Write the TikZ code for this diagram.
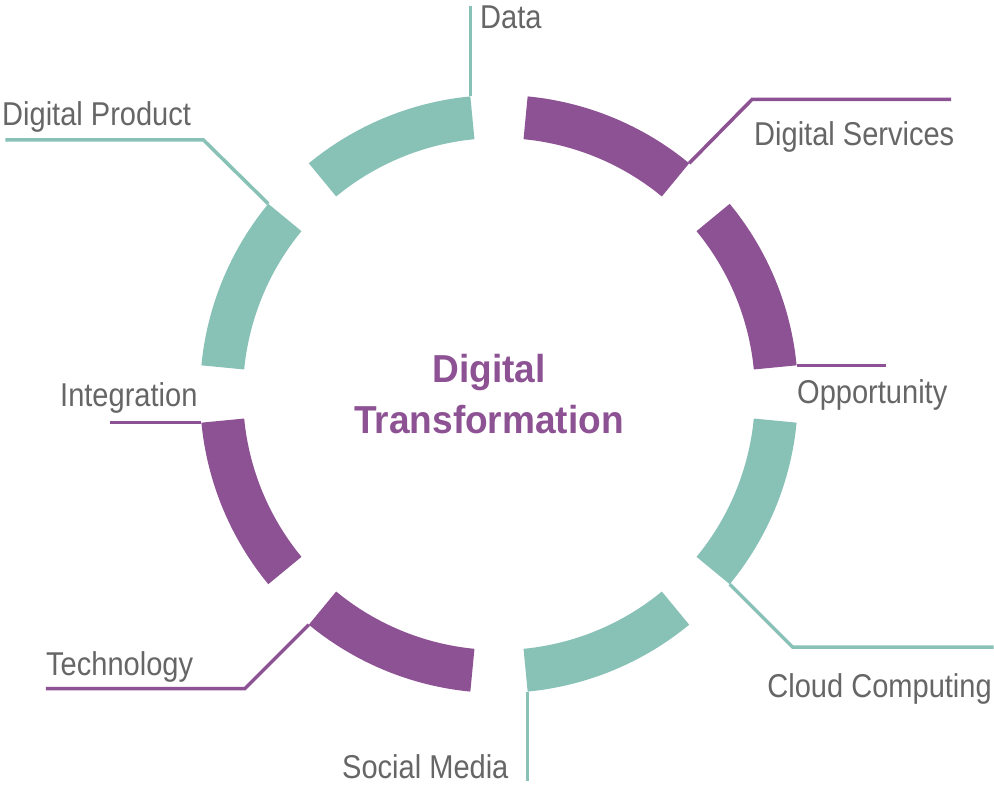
\documentclass[tikz,border=0pt]{standalone}
\usepackage{fontspec}
\setmainfont{Liberation Sans}[FakeStretch=0.88]
\newfontfamily\titlefont{Liberation Sans}[FakeStretch=0.95]
\usepackage{xcolor}
\definecolor{Sea Foam}{HTML}{88c2b7}
\definecolor{Plum}{HTML}{8d5293}
\definecolor{Slate}{HTML}{666666}
\colorlet{cTeal}{Sea Foam}
\colorlet{cPurple}{Plum}
\colorlet{cText}{Slate}
\usepackage{tikz}
\usetikzlibrary{calc, positioning}
\tikzset{
	lbl/.style={
		text=cText,
		inner sep=0pt,
		anchor=base west,
		font=\fontsize{33}{36}\selectfont
	},
	heading/.style={
		text=cPurple,
		inner sep=0pt,
		anchor=base,
		font=\titlefont\bfseries\fontsize{39}{51}\selectfont
	},
	leader/.style={
		line width=3.5pt,
		line join=miter
	}
}

\begin{document}
\begin{tikzpicture}[x=1pt, y=1pt]
		\useasboundingbox (-499,-394) rectangle (495,394);

		\def\rout{299}
		\def\rin{256}

		% ring
		\foreach \a/\c in {22.5/cPurple, 67.5/cPurple, 112.5/cTeal, 157.5/cTeal, 202.5/cPurple, 247.5/cPurple, 292.5/cTeal, 337.5/cTeal} {
			\fill[\c] (\a-17:\rout) arc[start angle=\a-17, end angle=\a+17, radius=\rout]
				-- (\a+17:\rin) arc[start angle=\a+17, end angle=\a-17, radius=\rin] -- cycle;
		}

		% roots of the leaders
		\coordinate (r0) at (5.5:\rout);
		\coordinate (r1) at (50.5:\rout);
		\coordinate (r2) at (95.5:\rout);
		\coordinate (r3) at (140.5:\rout);
		\coordinate (r4) at (185.5:\rout);
		\coordinate (r5) at (230.5:\rout);
		\coordinate (r6) at (275.5:\rout);
		\coordinate (r7) at (320.5:\rout);

		\node[heading] (t0) at (-10,12) {Digital};
		\node[heading] (t1) at (-10,-39) {Transformation};

		\node[lbl] (opportunity) at (298,-9) {Opportunity};
		\node[lbl] (services) at (255,249) {Digital Services};
		\node[lbl] (data) at (-19,365) {Data};
		\node[lbl] (product) at (-497,269) {Digital Product};
		\node[lbl] (integration) at (-439,-12) {Integration};
		\node[lbl] (technology) at (-453,-281) {Technology};
		\node[lbl] (social) at (-157,-384) {Social Media};
		\node[lbl, anchor=base east] (cloud) at (493,-303) {Cloud Computing};

		\draw[leader, cPurple] (r0) -- ++(89,0);
		\draw[leader, cPurple] (r1) -- ++(63,64) -- ++(199,0);
		\draw[leader, cTeal] (r2) -- (r2 |- 0,388);
		\draw[leader, cTeal] (r3) -- ++(-65,64) -- ++(-198,0);
		\draw[leader, cPurple] (r4) -- ++(-91,0);
		\draw[leader, cPurple] (r5) -- ++(-64,-64) -- ++(-199,0);
		\draw[leader, cTeal] (r6) -- (r6 |- 0,-387);
		\draw[leader, cTeal] (r7) -- ++(63,-63) -- ++(201,0);
	\end{tikzpicture}
\end{document}
